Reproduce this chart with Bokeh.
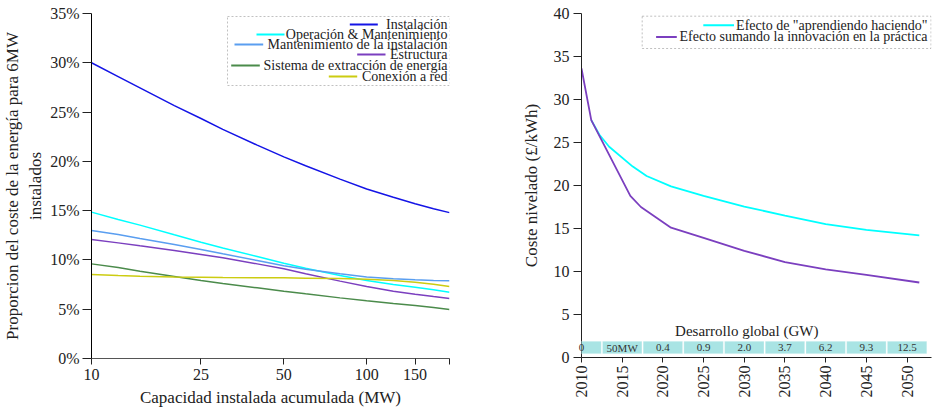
import math
from bokeh.plotting import figure
from bokeh.layouts import row
from bokeh.models import (Range1d, FixedTicker, PrintfTickFormatter, CustomJSTickFormatter,
                          Label, BoxAnnotation, Arrow)
from bokeh.embed import file_html
from bokeh.resources import INLINE

FONT = "Liberation Serif"

# ---------------- data: left chart (share of energy cost, %) ----------------
caps = [10, 12.5, 15, 20, 25, 30, 40, 50, 60, 80, 100, 125, 150, 175, 200]
instalacion = [30.0, 28.6, 27.45, 25.65, 24.35, 23.25, 21.65, 20.45, 19.55, 18.2, 17.2, 16.35, 15.7, 15.2, 14.8]
operacion = [14.85, 14.1, 13.53, 12.55, 11.8, 11.22, 10.35, 9.67, 9.16, 8.42, 7.91, 7.51, 7.24, 6.97, 6.73]
mant_instalacion = [12.99, 12.58, 12.17, 11.56, 11.06, 10.62, 9.94, 9.4, 9.06, 8.59, 8.28, 8.08, 7.98, 7.91, 7.88]
estructura = [12.07, 11.73, 11.43, 10.96, 10.55, 10.22, 9.6, 9.1, 8.59, 7.85, 7.31, 6.83, 6.53, 6.29, 6.09]
sistema_extraccion = [9.6, 9.23, 8.86, 8.32, 7.91, 7.61, 7.17, 6.83, 6.56, 6.15, 5.85, 5.58, 5.38, 5.17, 4.97]
conexion_red = [8.52, 8.42, 8.35, 8.28, 8.25, 8.22, 8.18, 8.18, 8.15, 8.11, 8.05, 7.91, 7.74, 7.54, 7.3]
left_names = ["Instalación", "Operación & Mantenimiento", "Mantenimiento de la instalación",
              "Estructura", "Sistema de extracción de energía", "Conexión a red"]
left_yticks = [0, 5, 10, 15, 20, 25, 30, 35]
left_xticks = [10, 25, 50, 100, 150, 200]

# ---------------- data: right chart (levelised cost) ----------------
years_learn = [2011.2, 2012.2, 2013.4, 2016.3, 2018, 2021, 2025, 2030, 2035, 2040, 2045, 2051.5]
cost_learn = [27.6, 25.9, 24.5, 22.2, 21.1, 19.9, 18.8, 17.55, 16.5, 15.5, 14.85, 14.2]
years_innov = [2010, 2011.2, 2016, 2017.3, 2021, 2025, 2030, 2035, 2040, 2045, 2051.5]
cost_innov = [33.6, 27.6, 18.8, 17.5, 15.1, 13.9, 12.4, 11.1, 10.25, 9.6, 8.72]
right_names = ['Efecto de "aprendiendo haciendo"', "Efecto sumando la innovación en la práctica"]
band_years = [2010, 2015, 2020, 2025, 2030, 2035, 2040, 2045, 2050]
band_labels = ["0", "50MW", "0.4", "0.9", "2.0", "3.7", "6.2", "9.3", "12.5"]
right_yticks = [0, 5, 10, 15, 20, 25, 30, 35, 40]
right_xticks = [2010, 2015, 2020, 2025, 2030, 2035, 2040, 2045, 2050]

# ---------------- styles / layout ----------------
left_colors = ["#1414e6", "#00ffff", "#5a9ef0", "#7b3fbf", "#4b8b4b", "#cccc11"]
right_colors = ["#00ffff", "#7b3fbf"]

FW1, FH1 = 358, 345
FW2, FH2 = 350, 344
X1 = (10, 200)
Y1 = (0, 35)
X2 = (2010, 2053)
Y2 = (0, 40)


def lx(px):
    return 10 ** (math.log10(X1[0]) + px / FW1 * (math.log10(X1[1]) - math.log10(X1[0])))


def ly(py):
    return Y1[1] - py / FH1 * (Y1[1] - Y1[0])


def rx(px):
    return X2[0] + px / FW2 * (X2[1] - X2[0])


def ry(py):
    return Y2[1] - py / FH2 * (Y2[1] - Y2[0])


def style_axes(p):
    for ax in (p.xaxis[0], p.yaxis[0]):
        ax.major_label_text_font = FONT
        ax.major_label_text_font_size = "16px"
        ax.major_label_text_color = "#222222"
        ax.axis_label_text_font = FONT
        ax.axis_label_text_font_size = "17px"
        ax.axis_label_text_font_style = "normal"
        ax.axis_label_text_color = "#222222"
        ax.minor_tick_line_color = None
        ax.major_tick_in = 0
        ax.axis_line_color = "#222222"
        ax.major_tick_line_color = "#222222"
    p.xgrid.visible = False
    p.ygrid.visible = False
    p.outline_line_color = None


def add_legend(p, xf, yf, box, rows, text_right, segs, colors, names):
    p.add_layout(BoxAnnotation(left=xf(box[0]), right=xf(box[1]), top=yf(box[2]), bottom=yf(box[3]),
                               fill_color="white", fill_alpha=1.0, line_color="#333333",
                               line_width=1, line_dash="2 2"))
    for r, (s0, s1), c, n in zip(rows, segs, colors, names):
        p.add_layout(Arrow(end=None, x_start=xf(s0), x_end=xf(s1), y_start=yf(r), y_end=yf(r),
                           line_color=c, line_width=2))
        p.add_layout(Label(x=xf(text_right), y=yf(r), text=n, text_align="right",
                           text_baseline="middle", text_font=FONT, text_font_size="14px",
                           text_color="#222222"))


# ---------------- left figure ----------------
p1 = figure(x_axis_type="log", x_range=Range1d(*X1), y_range=Range1d(*Y1),
            frame_width=FW1, frame_height=FH1, min_border_left=91, min_border_right=20,
            min_border_top=13, min_border_bottom=52, toolbar_location=None, output_backend="svg")
style_axes(p1)
p1.yaxis.ticker = FixedTicker(ticks=left_yticks)
p1.yaxis.formatter = PrintfTickFormatter(format="%d%%")
p1.yaxis.major_tick_out = 9
p1.yaxis.major_label_standoff = 3
p1.yaxis.axis_line_color = "black"
p1.yaxis.axis_label = "Proporcion del coste de la energía para 6MW\ninstalados"
p1.yaxis.axis_label_standoff = 2
p1.xaxis.ticker = FixedTicker(ticks=left_xticks)
p1.xaxis.formatter = CustomJSTickFormatter(code="return tick >= 199 ? '' : tick.toFixed(0);")
p1.xaxis.major_tick_out = 6
p1.xaxis.major_label_standoff = 4
p1.xaxis.axis_label_standoff = 5
p1.xaxis.axis_line_color = "#555555"
p1.xaxis.axis_label = "Capacidad instalada acumulada (MW)"
# short continuation of the x-axis line to the left of the y spine (as in the original)
p1.add_layout(Arrow(end=None, x_start=lx(-8), x_end=X1[0], y_start=Y1[0], y_end=Y1[0],
                    line_color="#555555", line_width=1), "left")

for ys, c in zip([instalacion, operacion, mant_instalacion, estructura, sistema_extraccion, conexion_red],
                 left_colors):
    p1.line(caps, ys, line_color=c, line_width=1.5)

add_legend(p1, lx, ly, box=(136, 358.5, 3, 72), rows=[11, 21, 31, 41, 52, 63], text_right=356,
           segs=[(258.3, 286.3), (165, 193), (143, 171.7), (265.7, 294), (139.7, 168.3), (237.3, 265.7)],
           colors=left_colors, names=left_names)

# ---------------- right figure ----------------
p2 = figure(x_range=Range1d(*X2), y_range=Range1d(*Y2),
            frame_width=FW2, frame_height=FH2, min_border_left=112, min_border_right=2,
            min_border_top=13, min_border_bottom=53, toolbar_location=None, output_backend="svg")
style_axes(p2)
p2.yaxis.ticker = FixedTicker(ticks=right_yticks)
p2.yaxis.major_tick_out = 8
p2.yaxis.major_label_standoff = 4
p2.yaxis.axis_label = "Coste nivelado (£/kWh)"
p2.yaxis.axis_label_standoff = 10
p2.xaxis.ticker = FixedTicker(ticks=right_xticks)
p2.xaxis.major_label_orientation = math.pi / 2
p2.xaxis.major_tick_out = 5
p2.xaxis.major_label_standoff = 3

p2.line(years_learn, cost_learn, line_color=right_colors[0], line_width=1.8)
p2.line(years_innov, cost_innov, line_color=right_colors[1], line_width=1.8)

# "Desarrollo global" band; items that straddle the y spine go in the side panel (not clipped)
band_y = ry(334)
band_half_h = 1.47 / 2
band_half_w = 4.85 / 2
for yr, lab in zip(band_years, band_labels):
    side = "left" if yr - band_half_w < X2[0] else "center"
    p2.add_layout(BoxAnnotation(left=yr - band_half_w, right=yr + band_half_w,
                                bottom=band_y - band_half_h, top=band_y + band_half_h,
                                fill_color="#a9e4e4", fill_alpha=1.0, line_color="white",
                                line_width=1), side)
    p2.add_layout(Label(x=yr, y=band_y, text=lab, text_font=FONT, text_font_size="11px",
                        text_align="center", text_baseline="middle", text_color="#333333"), side)
p2.add_layout(Label(x=2030.3, y=ry(317), text="Desarrollo global (GW)", text_align="center",
                    text_baseline="middle", text_font=FONT, text_font_size="15px",
                    text_color="#222222"))

add_legend(p2, rx, ry, box=(60.7, 349.5, 2.7, 35), rows=[11.7, 23.4], text_right=346,
           segs=[(121.8, 152.5), (74.6, 95.3)], colors=right_colors, names=right_names)

layout = row(p1, p2)
open("out.html", "w").write(file_html(layout, INLINE))
